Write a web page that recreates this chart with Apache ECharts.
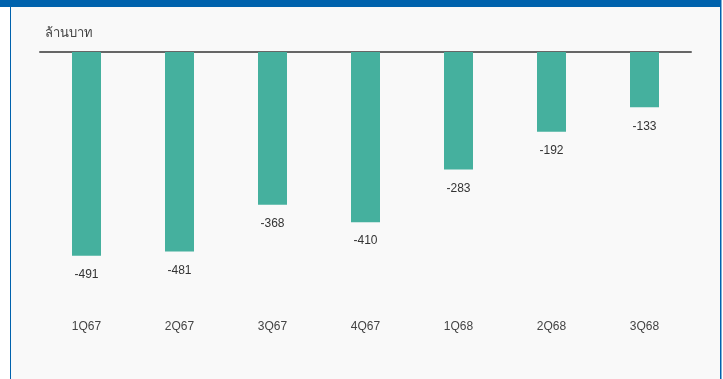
<!DOCTYPE html>
<html><head><meta charset="utf-8">
<script src="https://cdn.jsdelivr.net/npm/echarts@6/dist/echarts.min.js"></script>
<style>html,body{margin:0;padding:0;background:#fff}#c{width:723px;height:379px}</style>
</head><body><div id="c"></div>
<script>
const categories = ['1Q67','2Q67','3Q67','4Q67','1Q68','2Q68','3Q68'];
const values = [-491,-481,-368,-410,-283,-192,-133];
const unitLabel = 'ล้านบาท';

const chart = echarts.init(document.getElementById('c'), null, {renderer:'canvas'});
const font = 'Liberation Sans, Arial, sans-serif';
chart.setOption({
  backgroundColor: '#ffffff',
  animation: false,
  graphic: [
    {type:'rect', shape:{x:10,y:0,width:711,height:379}, style:{fill:'#f9f9f9'}, z:-10, silent:true},
    {type:'rect', shape:{x:0,y:0,width:721,height:7}, style:{fill:'#0062ad'}, z:-5, silent:true},
    {type:'rect', shape:{x:10,y:0,width:1,height:379}, style:{fill:'#0062ad'}, z:-5, silent:true},
    {type:'rect', shape:{x:720,y:0,width:1.5,height:379}, style:{fill:'#0062ad'}, z:-5, silent:true},
    {type:'text', left:45, top:27, style:{text:unitLabel, fill:'#444', font:'13px sans-serif'}}
  ],
  grid: {left:40, right:32, top:52, height:249, containLabel:false},
  xAxis: [
    {type:'category', data:categories, position:'top',
     axisLine:{show:true, onZero:false, lineStyle:{color:'#666', width:2}},
     axisTick:{show:false}, axisLabel:{show:false}},
    {type:'category', data:categories, position:'bottom',
     axisLine:{show:false}, axisTick:{show:false},
     axisLabel:{color:'#444', fontSize:12, fontFamily:font, margin:20}}
  ],
  yAxis: {type:'value', min:-600, max:0, show:false, splitLine:{show:false}},
  series: [{
    type:'bar', data:values, xAxisIndex:0, barWidth:29,
    itemStyle:{color:'#45b09e'},
    label:{show:true, position:'bottom', distance:13, color:'#333', fontSize:12, fontFamily:font}
  }]
});
</script></body></html>
